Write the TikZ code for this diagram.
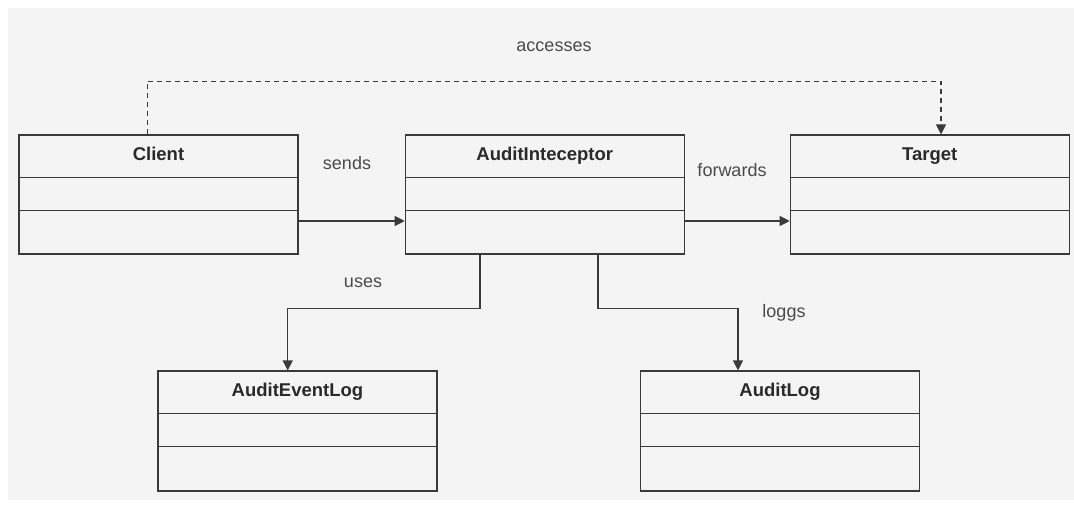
\documentclass[tikz,border=0pt]{standalone}
\usepackage{fontspec}
\setmainfont{Liberation Sans}
\usetikzlibrary{arrows.meta}
\definecolor{paper}{HTML}{F4F4F4}
\definecolor{ink}{HTML}{3A3A3A}
\definecolor{titleink}{HTML}{2A2A2A}
\definecolor{labelink}{HTML}{4A4A4A}
\begin{document}
\begin{tikzpicture}[x=1pt,y=-1pt,
  classbox/.style={draw=ink,line width=1.1pt,rectangle,inner sep=0pt,
    minimum width=279pt,minimum height=119pt},
  classtitle/.style={font=\fontsize{18.5}{22}\selectfont\bfseries,text=titleink,
    inner sep=0pt,text height=13.5pt,text depth=4pt},
  rel/.style={font=\fontsize{18}{22}\selectfont,text=labelink,
    inner sep=0pt,text height=13pt,text depth=4pt},
  link/.style={draw=ink,line width=1.1pt,-{Triangle[length=10pt,width=10pt]}},
  dep/.style={link,dash pattern=on 5pt off 4pt}]
  % canvas
  \useasboundingbox (0,0) rectangle (1074,508);
  \fill[white] (0,0) rectangle (1074,508);
  \fill[paper] (8,8) rectangle (1074,500);

  % class boxes
  \node[classbox] (client) at (158.5,194.5) {};
  \node[classbox] (ai)     at (544.75,194.5) {};
  \node[classbox] (target) at (929.75,194.5) {};
  \node[classbox,minimum height=120pt] (ael) at (297.5,431) {};
  \node[classbox,minimum height=120pt] (al)  at (780,431) {};

  % compartments and names (shifts are in page units, so down is negative)
  \foreach \c/\t in {client/Client, ai/AuditInteceptor, target/Target,
                     ael/AuditEventLog, al/AuditLog}{
    \draw[ink,line width=1.1pt] ([yshift=-43pt]\c.north west) -- ([yshift=-43pt]\c.north east);
    \draw[ink,line width=1.1pt] ([yshift=-76pt]\c.north west) -- ([yshift=-76pt]\c.north east);
    \node[classtitle] (\c-name) at ([yshift=-21.5pt]\c.north) {\t};
  }

  % relations
  \draw[dep] ([xshift=-11pt]client.north) -- ++(0,-53.3) -| ([xshift=11.25pt]target.north);
  \draw[link] ([yshift=-26.5pt]client.east) -- ([yshift=-26.5pt]ai.west);
  \draw[link] ([yshift=-26.5pt]ai.east) -- ([yshift=-26.5pt]target.west);
  \draw[link] ([xshift=-64.75pt]ai.south) -- ++(0,53.7) -| ([xshift=-9.8pt]ael.north);
  \draw[link] ([xshift=53.25pt]ai.south) -- ++(0,53.7) -| ([xshift=-42pt]al.north);

  % relation labels
  \node[rel] (l-acc) at (554,47) {accesses};
  \node[rel] (l-snd) at (347,165) {sends};
  \node[rel] (l-fwd) at (732,172) {forwards};
  \node[rel] (l-use) at (363,283) {uses};
  \node[rel] (l-log) at (784,313) {loggs};
\end{tikzpicture}
\end{document}
